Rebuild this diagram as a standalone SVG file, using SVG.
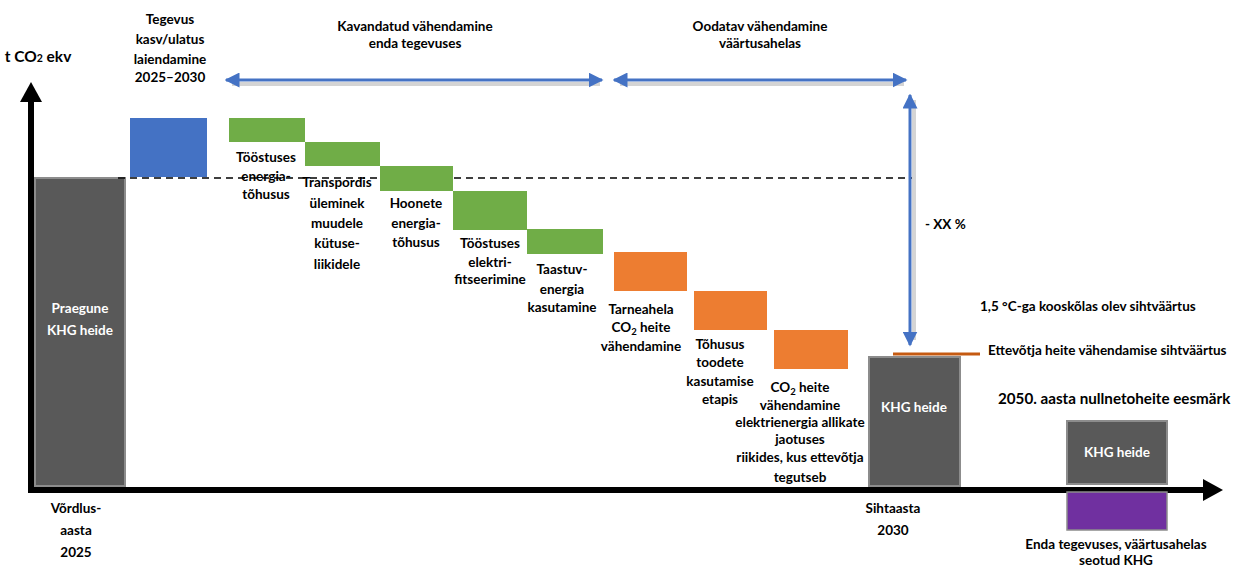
<svg xmlns="http://www.w3.org/2000/svg" width="1236" height="568" viewBox="0 0 1236 568">
<defs>
<style>
text{font-family:Lato,"Liberation Sans",sans-serif;font-weight:bold;font-size:13.5px;fill:#000;text-anchor:middle}
.w{fill:#fff}
.l{text-anchor:start}
.gray{fill:#595959;stroke:#8c8c8c;stroke-width:2}
.green{fill:#70AD47}
.orange{fill:#ED7D31}
.barrow{stroke:#4472C4;stroke-width:3;fill:none}
.shadow{stroke:#d4d4d4;stroke-width:4;fill:none}
</style>
<marker id="bh" viewBox="0 0 10 10" refX="9" refY="5" markerWidth="5" markerHeight="5" orient="auto-start-reverse" markerUnits="strokeWidth">
<path d="M0,0 L10,5 L0,10 z" fill="#4472C4"/>
</marker>
</defs>
<rect width="1236" height="568" fill="#fff"/>

<g id="axes">
<line x1="31" y1="100" x2="31" y2="493" stroke="#000" stroke-width="6"/>
<polygon points="31,82 20,102 42,102" fill="#000"/>
<line x1="28" y1="490" x2="1204" y2="490" stroke="#000" stroke-width="6"/>
<polygon points="1223,490 1203,479 1203,501" fill="#000"/>
<text x="38" y="62" style="font-size:15.5px">t CO<tspan style="font-size:10.5px">2</tspan> ekv</text>
</g>

<g id="base">
<rect class="gray" x="35" y="178" width="90" height="308"/>
<text class="w" x="80" y="313">Praegune</text>
<text class="w" x="80" y="335">KHG heide</text>
<text x="76" y="513">Võrdlus-</text>
<text x="76" y="535">aasta</text>
<text x="76" y="557">2025</text>
</g>

<g id="growth">
<rect x="130" y="118" width="77" height="59" fill="#4472C4"/>
<text x="170" y="24">Tegevus</text>
<text x="170" y="44">kasv/ulatus</text>
<text x="170" y="64">laiendamine</text>
<text x="170" y="82">2025–2030</text>
</g>

<g id="connectors">
<line x1="118" y1="178" x2="912" y2="178" stroke="#000" stroke-width="1.5" stroke-dasharray="7,5"/>
<line class="shadow" x1="232" y1="84" x2="600" y2="84"/>
<line class="barrow" x1="226" y1="80" x2="602" y2="80" marker-start="url(#bh)" marker-end="url(#bh)"/>
<line class="shadow" x1="620" y1="84" x2="904" y2="84"/>
<line class="barrow" x1="614" y1="80" x2="906" y2="80" marker-start="url(#bh)" marker-end="url(#bh)"/>
<line class="shadow" x1="914" y1="100" x2="914" y2="340"/>
<line class="barrow" x1="910" y1="95" x2="910" y2="345" marker-start="url(#bh)" marker-end="url(#bh)"/>
<text class="l" x="925" y="229">- XX %</text>
</g>

<g id="title-own">
<text x="415" y="31">Kavandatud vähendamine</text>
<text x="415" y="48">enda tegevuses</text>
</g>
<g id="title-chain">
<text x="760" y="31">Oodatav vähendamine</text>
<text x="760" y="48">väärtusahelas</text>
</g>

<g id="g1">
<rect class="green" x="229" y="118" width="76" height="24"/>
<text x="266" y="162">Tööstuses</text>
<text x="266" y="181">energia-</text>
<text x="266" y="199">tõhusus</text>
</g>
<g id="g2">
<rect class="green" x="305" y="142" width="75" height="24"/>
<text x="337" y="187">Transpordis</text>
<text x="337" y="208">üleminek</text>
<text x="337" y="228">muudele</text>
<text x="337" y="248">kütuse-</text>
<text x="337" y="269">liikidele</text>
</g>
<g id="g3">
<rect class="green" x="380" y="166" width="73" height="25"/>
<text x="416" y="208">Hoonete</text>
<text x="416" y="228">energia-</text>
<text x="416" y="247">tõhusus</text>
</g>
<g id="g4">
<rect class="green" x="453" y="191" width="74" height="39"/>
<text x="490" y="248">Tööstuses</text>
<text x="490" y="267">elektri-</text>
<text x="490" y="284">fitseerimine</text>
</g>
<g id="g5">
<rect class="green" x="527" y="229" width="76" height="25"/>
<text x="562" y="274">Taastuv-</text>
<text x="562" y="294">energia</text>
<text x="562" y="312">kasutamine</text>
</g>

<g id="o1">
<rect class="orange" x="614" y="252" width="73" height="39"/>
<text x="641" y="314">Tarneahela</text>
<text x="641" y="332">CO<tspan style="font-size:9.5px" dy="3">2</tspan><tspan dy="-3"> heite</tspan></text>
<text x="641" y="351">vähendamine</text>
</g>
<g id="o2">
<rect class="orange" x="694" y="291" width="73" height="39"/>
<text x="720" y="349">Tõhusus</text>
<text x="720" y="367">toodete</text>
<text x="720" y="386">kasutamise</text>
<text x="720" y="404">etapis</text>
</g>
<g id="o3">
<rect class="orange" x="774" y="330" width="74" height="39"/>
<text x="800" y="392">CO<tspan style="font-size:9.5px" dy="3">2</tspan><tspan dy="-3"> heite</tspan></text>
<text x="800" y="410">vähendamine</text>
<text x="800" y="427">elektrienergia allikate</text>
<text x="800" y="444">jaotuses</text>
<text x="800" y="462">riikides, kus ettevõtja</text>
<text x="800" y="482">tegutseb</text>
</g>

<g id="target2030">
<rect class="gray" x="869" y="357" width="91" height="129"/>
<text class="w" x="914" y="412">KHG heide</text>
<line x1="893" y1="354" x2="980" y2="354" stroke="#C55A11" stroke-width="3"/>
<text x="893" y="513">Sihtaasta</text>
<text x="893" y="535">2030</text>
<text class="l" x="980" y="311">1,5 °C-ga kooskõlas olev sihtväärtus</text>
<text class="l" x="988" y="355">Ettevõtja heite vähendamise sihtväärtus</text>
</g>

<g id="net2050">
<text class="l" x="998" y="404" style="font-size:15.2px">2050. aasta nullnetoheite eesmärk</text>
<rect class="gray" x="1067" y="421" width="100" height="63"/>
<text class="w" x="1117" y="457">KHG heide</text>
<rect x="1067" y="492" width="100" height="38" fill="#7030A0" stroke="#8c8c8c" stroke-width="1.5"/>
<text x="1116" y="549">Enda tegevuses, väärtusahelas</text>
<text x="1116" y="565">seotud KHG</text>
</g>
</svg>
